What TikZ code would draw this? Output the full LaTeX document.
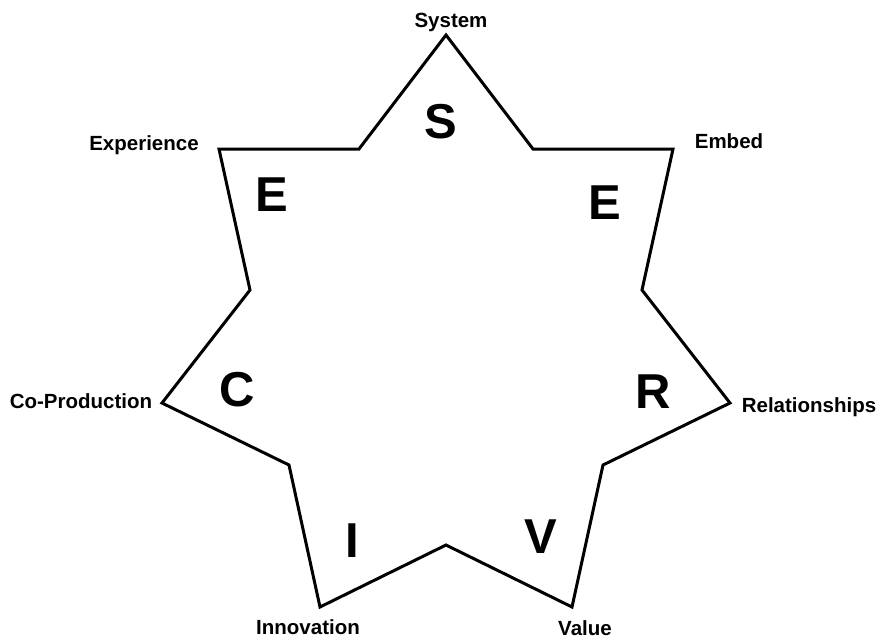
\documentclass[tikz,border=0pt]{standalone}
\usepackage{fontspec}
\setmainfont{Liberation Sans}
\begin{document}
\begin{tikzpicture}[x=1pt,y=-1pt,
  lbl/.style={font=\bfseries\fontsize{20.5}{24}\selectfont, anchor=base, inner sep=0pt},
  big/.style={font=\bfseries\fontsize{49}{56}\selectfont, anchor=base, inner sep=0pt},
  starline/.style={draw=black, line width=3pt, line join=miter}]
\useasboundingbox (0,0) rectangle (878,638);
% vertices
\coordinate (pS) at (446,35);
\coordinate (i1) at (533,149);
\coordinate (pEm) at (673,149);
\coordinate (i2) at (642,290);
\coordinate (pR) at (730,403);
\coordinate (i3) at (603,465);
\coordinate (pV) at (572,607);
\coordinate (i4) at (446,545);
\coordinate (pI) at (320,607);
\coordinate (i5) at (289,465);
\coordinate (pC) at (162,403);
\coordinate (i6) at (250,290);
\coordinate (pEx) at (219,149);
\coordinate (i7) at (359,149);
\draw[starline] (pS) -- (i1) -- (pEm) -- (i2) -- (pR) -- (i3) -- (pV) -- (i4) -- (pI) -- (i5) -- (pC) -- (i6) -- (pEx) -- (i7) -- cycle;
% labels
\node[lbl] (tS) at (451,27) {System};
\node[lbl] (tEm) at (729,148) {Embed};
\node[lbl] (tR) at (809,412) {Relationships};
\node[lbl] (tV) at (585,635) {Value};
\node[lbl] (tI) at (308,634) {Innovation};
\node[lbl] (tC) at (81,408) {Co-Production};
\node[lbl] (tEx) at (144,150) {Experience};
% big letters
\node[big] (bS) at (441,138) {S};
\node[big] (bEm) at (605,219) {E};
\node[big] (bR) at (653,408) {R};
\node[big] (bV) at (541,553) {V};
\node[big] (bI) at (352,557) {I};
\node[big] (bC) at (237,406) {C};
\node[big] (bEx) at (272,211) {E};
\end{tikzpicture}
\end{document}
